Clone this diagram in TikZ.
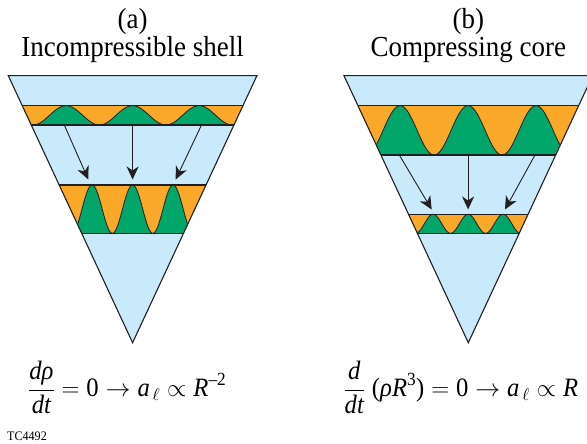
\documentclass[tikz,border=0pt]{standalone}
\usepackage{amsmath}
\usepackage[no-math]{fontspec}
\setmainfont{Liberation Serif}[FakeStretch=0.93]
\usetikzlibrary{arrows.meta}
\definecolor{skyb}{RGB}{200,234,250}
\definecolor{orng}{RGB}{249,168,42}
\definecolor{grn}{RGB}{0,166,106}
\definecolor{outl}{RGB}{35,31,32}
\newcommand\ti[1]{\text{\itshape #1}}
\tikzset{
  tri/.style={draw=outl,line width=1.1pt,line join=miter},
  bandline/.style={draw=outl,line width=1.1pt},
  waveline/.style={draw=outl,line width=0.8pt},
  arr/.style={draw=outl,line width=0.9pt,-{Stealth[length=13pt,width=12pt,inset=4pt]}},
  title/.style={anchor=base,inner sep=0pt,font=\fontsize{29}{31}\selectfont},
  formula/.style={anchor=base west,inner sep=0pt,font=\fontsize{26.5}{28}\selectfont}
}
% #1 centre x, #2 top y, #3 bottom y, #4 wavelength
\newcommand\myband[4]{%
  \fill[orng] ({#1-130},#2) rectangle ({#1+130},#3);
  \fill[grn] ({#1-130},#3) -- plot[domain={#1-130}:{#1+130},samples=260,smooth]
     (\x,{#3-(#3-#2)*(1+cos((360/#4)*(\x-#1)))/2}) -- ({#1+130},#3) -- cycle;
  \draw[waveline] plot[domain={#1-130}:{#1+130},samples=260,smooth]
     (\x,{#3-(#3-#2)*(1+cos((360/#4)*(\x-#1)))/2});
  \draw[bandline] ({#1-130},#2) -- ({#1+130},#2);
  \draw[bandline] ({#1-130},#3) -- ({#1+130},#3);
}
\begin{document}
\begin{tikzpicture}[x=1pt,y=-1pt]
\useasboundingbox (0,0) rectangle (587,444);

% ---------- panel (a) ----------
\coordinate (aTL) at (8.3,75.7);
\coordinate (aTR) at (256.9,75.7);
\coordinate (aB) at (132.6,342.7);
\fill[skyb] (aTL) -- (aTR) -- (aB) -- cycle;
\begin{scope}
  \clip (aTL) -- (aTR) -- (aB) -- cycle;
  \myband{132.6}{105.7}{125}{66.5}
  \myband{132.6}{185}{233.3}{40.5}
\end{scope}
\draw[tri] (aTL) -- (aTR) -- (aB) -- cycle;

\coordinate (a1s) at (64.3,125);   \coordinate (a1e) at (88.3,179.5);
\coordinate (a2s) at (132.6,125);  \coordinate (a2e) at (132.6,179.5);
\coordinate (a3s) at (201.5,125);  \coordinate (a3e) at (175.7,179.5);
\draw[arr] (a1s) -- (a1e);
\draw[arr] (a2s) -- (a2e);
\draw[arr] (a3s) -- (a3e);

\node[title] (ta) at (132.6,29) {(a)};
\node[title] (tsa) at (132.6,57) {Incompressible shell};

% ---------- panel (b) ----------
\coordinate (bTL) at (344,75.7);
\coordinate (bTR) at (592.6,75.7);
\coordinate (bB) at (468.3,342.7);
\fill[skyb] (bTL) -- (bTR) -- (bB) -- cycle;
\begin{scope}
  \clip (bTL) -- (bTR) -- (bB) -- cycle;
  \myband{468.1}{105.7}{155}{68}
  \myband{468.1}{214.3}{233.3}{35}
\end{scope}
\draw[tri] (bTL) -- (bTR) -- (bB) -- cycle;

\coordinate (b1s) at (399.3,155);  \coordinate (b1e) at (431.7,209.5);
\coordinate (b2s) at (468.1,155);  \coordinate (b2e) at (468.1,209.5);
\coordinate (b3s) at (535,155);    \coordinate (b3e) at (505,209.5);
\draw[arr] (b1s) -- (b1e);
\draw[arr] (b2s) -- (b2e);
\draw[arr] (b3s) -- (b3e);

\node[title] (tb) at (468.3,29) {(b)};
\node[title] (tsb) at (468.3,57) {Compressing core};

% ---------- formulas ----------
\node[formula] (fa) at (28,396.5)
  {$\dfrac{\ti{dρ}}{\ti{dt}} = \text{0} \rightarrow \ti{a}_{\,\ell} \propto \ti{R}^{\text{–2}}$};
\node[formula] (fb) at (343.3,396.5)
  {$\dfrac{\ti{d}}{\ti{dt}}\;\text{(}\ti{ρR}^{\text{3}}\text{)} = \text{0} \rightarrow \ti{a}_{\,\ell} \propto \ti{R}$};

\node[anchor=base west,inner sep=0pt,font=\fontsize{13}{15}\selectfont] (tc) at (7,440) {TC4492};
\end{tikzpicture}
\end{document}
